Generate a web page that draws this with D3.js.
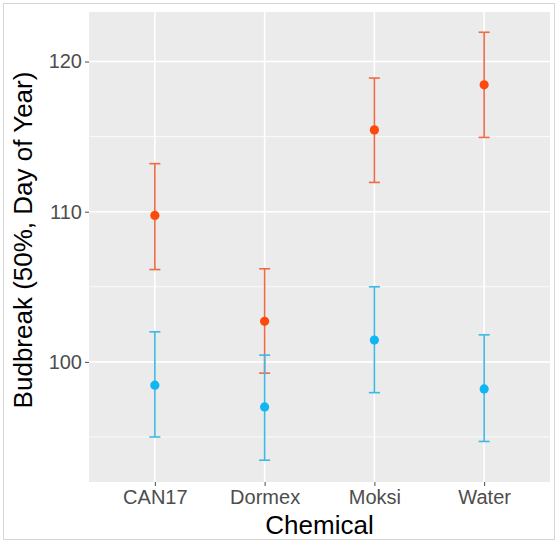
<!DOCTYPE html>
<html>
<head>
<meta charset="utf-8">
<script src="https://cdn.jsdelivr.net/npm/d3@7"></script>
<style>
  body { margin: 0; background: #fff; }
  svg { display: block; font-family: 'Liberation Sans', Arial, sans-serif; }
</style>
</head>
<body>
<div id="chart"></div>
<script>
// data
const chemicals = ['CAN17', 'Dormex', 'Moksi', 'Water'];
const redMean = [109.75, 102.7, 115.45, 118.45];
const redLow = [106.15, 99.25, 111.95, 114.95];
const redHigh = [113.2, 106.2, 118.9, 121.95];
const blueMean = [98.45, 97.0, 101.45, 98.2];
const blueLow = [95.0, 93.45, 97.95, 94.7];
const blueHigh = [102.0, 100.45, 105.0, 101.8];
const yTicks = [100, 110, 120];
const yMinor = [95, 105, 115];

const W = 558, H = 543;
const margin = {top: 12, right: 8, bottom: 61, left: 89};
const width = W - margin.left - margin.right;
const height = H - margin.top - margin.bottom;

const svg = d3.select('#chart').append('svg')
  .attr('width', W)
  .attr('height', H);

// faint frame around the picture
svg.append('rect')
  .attr('x', 3.5).attr('y', 3.5)
  .attr('width', W - 7).attr('height', H - 7)
  .attr('fill', 'none')
  .attr('stroke', '#d6d6d6');

const g = svg.append('g')
  .attr('transform', 'translate(' + margin.left + ',' + margin.top + ')');

// discrete scale with ggplot-like expansion of 0.6 per side
const x = d3.scalePoint()
  .domain(chemicals)
  .range([0, width])
  .padding(0.6);

const y = d3.scaleLinear()
  .domain([92, 123.3])
  .range([height, 0]);

g.append('rect')
  .attr('width', width)
  .attr('height', height)
  .attr('fill', '#ebebeb');

g.selectAll('.minor')
  .data(yMinor)
  .enter().append('line')
  .attr('class', 'minor')
  .attr('x1', 0).attr('x2', width)
  .attr('y1', d => y(d)).attr('y2', d => y(d))
  .attr('stroke', '#fff').attr('stroke-width', 0.8);

g.selectAll('.majory')
  .data(yTicks)
  .enter().append('line')
  .attr('class', 'majory')
  .attr('x1', 0).attr('x2', width)
  .attr('y1', d => y(d)).attr('y2', d => y(d))
  .attr('stroke', '#fff').attr('stroke-width', 1.6);

g.selectAll('.majorx')
  .data(chemicals)
  .enter().append('line')
  .attr('class', 'majorx')
  .attr('y1', 0).attr('y2', height)
  .attr('x1', d => x(d)).attr('x2', d => x(d))
  .attr('stroke', '#fff').attr('stroke-width', 1.6);

// axes
const yAxis = g.append('g')
  .call(d3.axisLeft(y).tickValues(yTicks).tickSize(4).tickPadding(3));
const xAxis = g.append('g')
  .attr('transform', 'translate(0,' + height + ')')
  .call(d3.axisBottom(x).tickSize(4).tickPadding(4));

[yAxis, xAxis].forEach(a => {
  a.select('.domain').remove();
  a.selectAll('line').attr('stroke', '#4d4d4d');
  a.selectAll('text')
    .attr('fill', '#4d4d4d')
    .style('font-size', '20px')
    .style('font-family', "'Liberation Sans', Arial, sans-serif");
});

// error bars + points
function series(mean, low, high, barColor, dotColor) {
  const rows = chemicals.map((c, i) => ({c, m: mean[i], lo: low[i], hi: high[i]}));
  const s = g.append('g');
  s.selectAll('.stem').data(rows).enter().append('line')
    .attr('x1', d => x(d.c)).attr('x2', d => x(d.c))
    .attr('y1', d => y(d.lo)).attr('y2', d => y(d.hi))
    .attr('stroke', barColor).attr('stroke-width', 1.6);
  s.selectAll('.capHi').data(rows).enter().append('line')
    .attr('x1', d => x(d.c) - 5.5).attr('x2', d => x(d.c) + 5.5)
    .attr('y1', d => y(d.hi)).attr('y2', d => y(d.hi))
    .attr('stroke', barColor).attr('stroke-width', 1.6);
  s.selectAll('.capLo').data(rows).enter().append('line')
    .attr('x1', d => x(d.c) - 5.5).attr('x2', d => x(d.c) + 5.5)
    .attr('y1', d => y(d.lo)).attr('y2', d => y(d.lo))
    .attr('stroke', barColor).attr('stroke-width', 1.6);
  s.selectAll('circle').data(rows).enter().append('circle')
    .attr('cx', d => x(d.c)).attr('cy', d => y(d.m))
    .attr('r', 4.6)
    .attr('fill', dotColor);
}

series(redMean, redLow, redHigh, '#ef6a45', '#fc4a0c');
series(blueMean, blueLow, blueHigh, '#3cb8e4', '#10b6f2');

// titles
svg.append('text')
  .attr('x', margin.left + width / 2)
  .attr('y', 534)
  .attr('text-anchor', 'middle')
  .style('font-size', '26px')
  .attr('fill', '#000')
  .text('Chemical');

svg.append('text')
  .attr('transform', 'translate(32,' + (240) + ') rotate(-90)')
  .attr('text-anchor', 'middle')
  .style('font-size', '26px')
  .attr('fill', '#000')
  .text('Budbreak (50%, Day of Year)');
</script>
</body>
</html>
